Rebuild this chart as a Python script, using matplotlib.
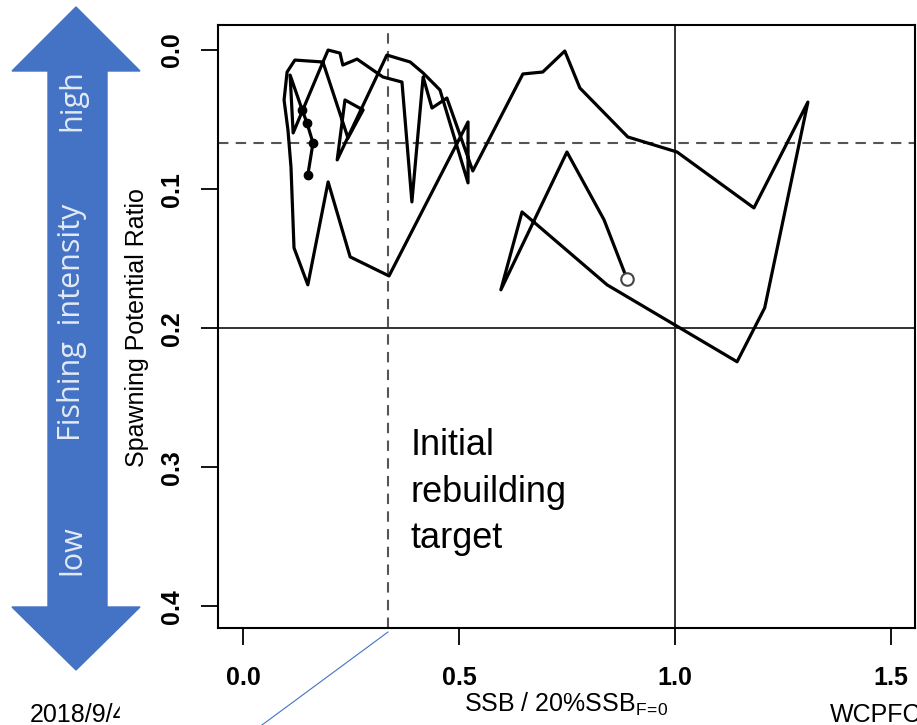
import matplotlib
matplotlib.use("Agg")
import matplotlib.pyplot as plt
from matplotlib.patches import Polygon, Rectangle
from matplotlib.lines import Line2D

plt.rcParams["font.family"] = "Liberation Sans"
plt.rcParams["mathtext.default"] = "regular"

# trajectory, first point = open circle, last points = filled dots
ssb_ratio = [0.889, 0.836, 0.750, 0.597, 0.646, 0.843, 1.144, 1.208, 1.308, 1.183,
             1.005, 0.891, 0.780, 0.745, 0.694, 0.648, 0.532, 0.472, 0.4375, 0.417,
             0.391, 0.368, 0.324, 0.264, 0.231, 0.2245, 0.197, 0.185, 0.120, 0.102,
             0.095, 0.104, 0.111, 0.118, 0.150, 0.197, 0.248, 0.338, 0.521, 0.521,
             0.456, 0.417, 0.387, 0.333, 0.218, 0.236, 0.278, 0.243, 0.185, 0.116,
             0.109, 0.137, 0.148, 0.162, 0.150]
spr = [0.1645, 0.1221, 0.0733, 0.1724, 0.1164, 0.1688, 0.2241, 0.1853, 0.0374, 0.1135,
       0.0733, 0.0625, 0.0273, 0.0007, 0.0158, 0.0172, 0.0869, 0.0345, 0.0417, 0.0194,
       0.1092, 0.0230, 0.0194, 0.0065, 0.0108, 0.0022, 0.0000, 0.0086, 0.0072, 0.0158,
       0.0359, 0.0575, 0.0841, 0.1422, 0.1688, 0.0948, 0.1487, 0.1624, 0.0517, 0.0955,
       0.0287, 0.0165, 0.0086, 0.0036, 0.0790, 0.0359, 0.0431, 0.0632, 0.0086, 0.0596,
       0.0180, 0.0431, 0.0524, 0.0668, 0.0898]
n_filled = 4

ssb_target = 0.336
spr_target = 0.0668
ssb_limit = 1.0
spr_limit = 0.2

xticks = [0.0, 0.5, 1.0, 1.5]
yticks = [0.0, 0.1, 0.2, 0.3, 0.4]

W, H = 917, 725
fig = plt.figure(figsize=(W / 100, H / 100), dpi=100)
ax = fig.add_axes([218 / W, 1 - 628 / H, (915 - 218) / W, (628 - 25) / H])

dash = (0, (5, 3.5))
ax.axvline(ssb_target, color="#555555", ls=dash, lw=1.5)
ax.axhline(spr_target, color="#555555", ls=dash, lw=1.5)
ax.axvline(ssb_limit, color="#222222", lw=1.3)
ax.axhline(spr_limit, color="#222222", lw=1.3)

ax.plot(ssb_ratio, spr, color="black", lw=2.3)
ax.plot(ssb_ratio[0], spr[0], "o", mfc="white", mec="#444444", ms=9, mew=1.5)
ax.plot(ssb_ratio[-n_filled:], spr[-n_filled:], "o", color="black", ms=6)

ax.text(0.387, 0.272, "Initial\nrebuilding\ntarget", fontsize=26,
        ha="left", va="top", linespacing=1.42)

ax.set_xlim(-0.058, 1.556)
ax.set_ylim(0.4155, -0.018)
ax.set_xticks(xticks)
ax.set_xticklabels([f"{t:.1f}" for t in xticks], fontweight="bold")
ax.set_yticks(yticks)
ax.set_yticklabels([f"{t:.1f}" for t in yticks], fontweight="bold",
                   rotation=90, va="center")
ax.tick_params(axis="x", length=12.5, width=1.3, labelsize=18, pad=15)
ax.tick_params(axis="y", length=12.5, width=1.3, labelsize=18, pad=12)
for s in ax.spines.values():
    s.set_linewidth(1.5)

fig.text(137 / W, 1 - 328 / H, "Spawning Potential Ratio", rotation=90,
         ha="center", va="center", fontsize=18)
fig.text(566 / W, 1 - 712 / H, r"SSB / 20%SSB$_{F\!=\!0}$", ha="center",
         va="baseline", fontsize=18)

# blue "fishing intensity" double arrow
arrow_px = [(76, 7), (140, 71), (107, 71), (107, 607), (140, 607), (76, 670),
            (12, 607), (48, 607), (48, 71), (12, 71)]
fig.patches.append(Polygon([(x / W, 1 - y / H) for x, y in arrow_px], closed=True,
                           transform=fig.transFigure, color="#4472C4", zorder=1))
for label, yc in [("high", 100), ("Fishing  intensity", 322), ("low", 550)]:
    fig.text(72 / W, 1 - yc / H, label, rotation=90, ha="center", va="center",
             fontsize=22, color="#E3EAF6", family="Open Sans")

# callout line and slide footer (partly hidden behind the chart)
fig.lines.append(Line2D([388 / W, 262 / W], [1 - 632 / H, 1 - 725 / H],
                        transform=fig.transFigure, color="#4472C4", lw=0.8))
fig.text(30 / W, 1 - 722 / H, "2018/9/4", fontsize=18, va="baseline")
fig.patches.append(Rectangle((120 / W, 0), 60 / W, 28 / H, transform=fig.transFigure,
                             color="white", zorder=5))
fig.text(830 / W, 1 - 722 / H, "WCPFC", fontsize=18, va="baseline")

fig.savefig("out.png", dpi=100)
